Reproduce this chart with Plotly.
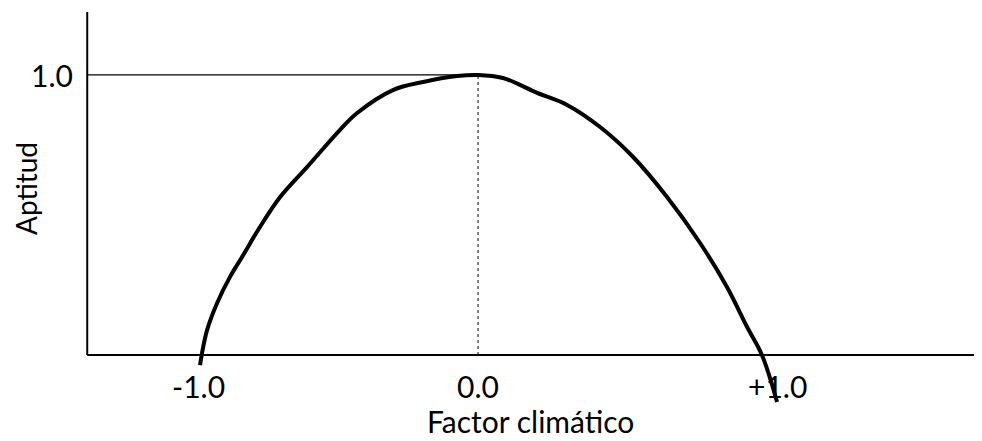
import plotly.graph_objects as go

# curve (factor climatico vs aptitud)
factor = [-0.993, -0.986, -0.968, -0.932, -0.886, -0.843, -0.779, -0.707, -0.611,
          -0.493, -0.432, -0.304, -0.196, -0.075, 0.0, 0.089, 0.211, 0.318, 0.436,
          0.554, 0.675, 0.793, 0.889, 0.961, 1.014, 1.068]
aptitud = [-0.036, 0.007, 0.089, 0.186, 0.279, 0.350, 0.457, 0.564, 0.671,
           0.804, 0.864, 0.946, 0.975, 0.996, 1.0, 0.989, 0.936, 0.893, 0.814,
           0.707, 0.564, 0.400, 0.243, 0.100, 0.0, -0.168]

x_tick_pos = [-1.0, 0.0, 1.07]
x_tick_text = ["-1.0", "0.0", "+1.0"]
y_tick_pos = [1.0]
y_tick_text = ["1.0"]

font = "Lato"
# page body has an 8px margin, so the figure is 8px smaller than the window
x_min, x_max = -1.679, 1.8
y_min, y_max = -0.307, 1.239
axis_x = -1.396

fig = go.Figure()
fig.add_trace(go.Scatter(
    x=factor, y=aptitud, mode="lines",
    line=dict(color="black", width=4, shape="spline", smoothing=1.0),
    showlegend=False, hoverinfo="skip"
))

# axes drawn by hand
fig.add_shape(type="line", x0=axis_x, x1=x_max, y0=0, y1=0,
              line=dict(color="black", width=2))
fig.add_shape(type="line", x0=axis_x, x1=axis_x, y0=0, y1=1.225,
              line=dict(color="black", width=2))
fig.add_shape(type="line", x0=axis_x, x1=0, y0=1.0, y1=1.0,
              line=dict(color="black", width=1.2))
fig.add_shape(type="line", x0=0, x1=0, y0=0, y1=1.0,
              line=dict(color="black", width=1, dash="dot"))

for xv, txt in zip(x_tick_pos, x_tick_text):
    fig.add_annotation(x=xv, y=-0.111, text=txt, showarrow=False,
                       font=dict(family=font, size=30, color="black"),
                       xanchor="center", yanchor="middle")
for yv, txt in zip(y_tick_pos, y_tick_text):
    fig.add_annotation(x=-1.521, y=yv, text=txt, showarrow=False,
                       font=dict(family=font, size=30, color="black"),
                       xanchor="center", yanchor="middle")

fig.add_annotation(x=0.186, y=-0.236, text="Factor climático", showarrow=False,
                   font=dict(family=font, size=30, color="black"),
                   xanchor="center", yanchor="middle")
fig.add_annotation(x=-1.615, y=0.596, text="Aptitud", showarrow=False, textangle=-90,
                   font=dict(family=font, size=28, color="black"),
                   xanchor="center", yanchor="middle")

fig.update_layout(
    width=974, height=433,
    margin=dict(l=0, r=0, t=0, b=0),
    paper_bgcolor="white", plot_bgcolor="white",
    xaxis=dict(range=[x_min, x_max], visible=False),
    yaxis=dict(range=[y_min, y_max], visible=False),
)

fig.write_html("out.html")
